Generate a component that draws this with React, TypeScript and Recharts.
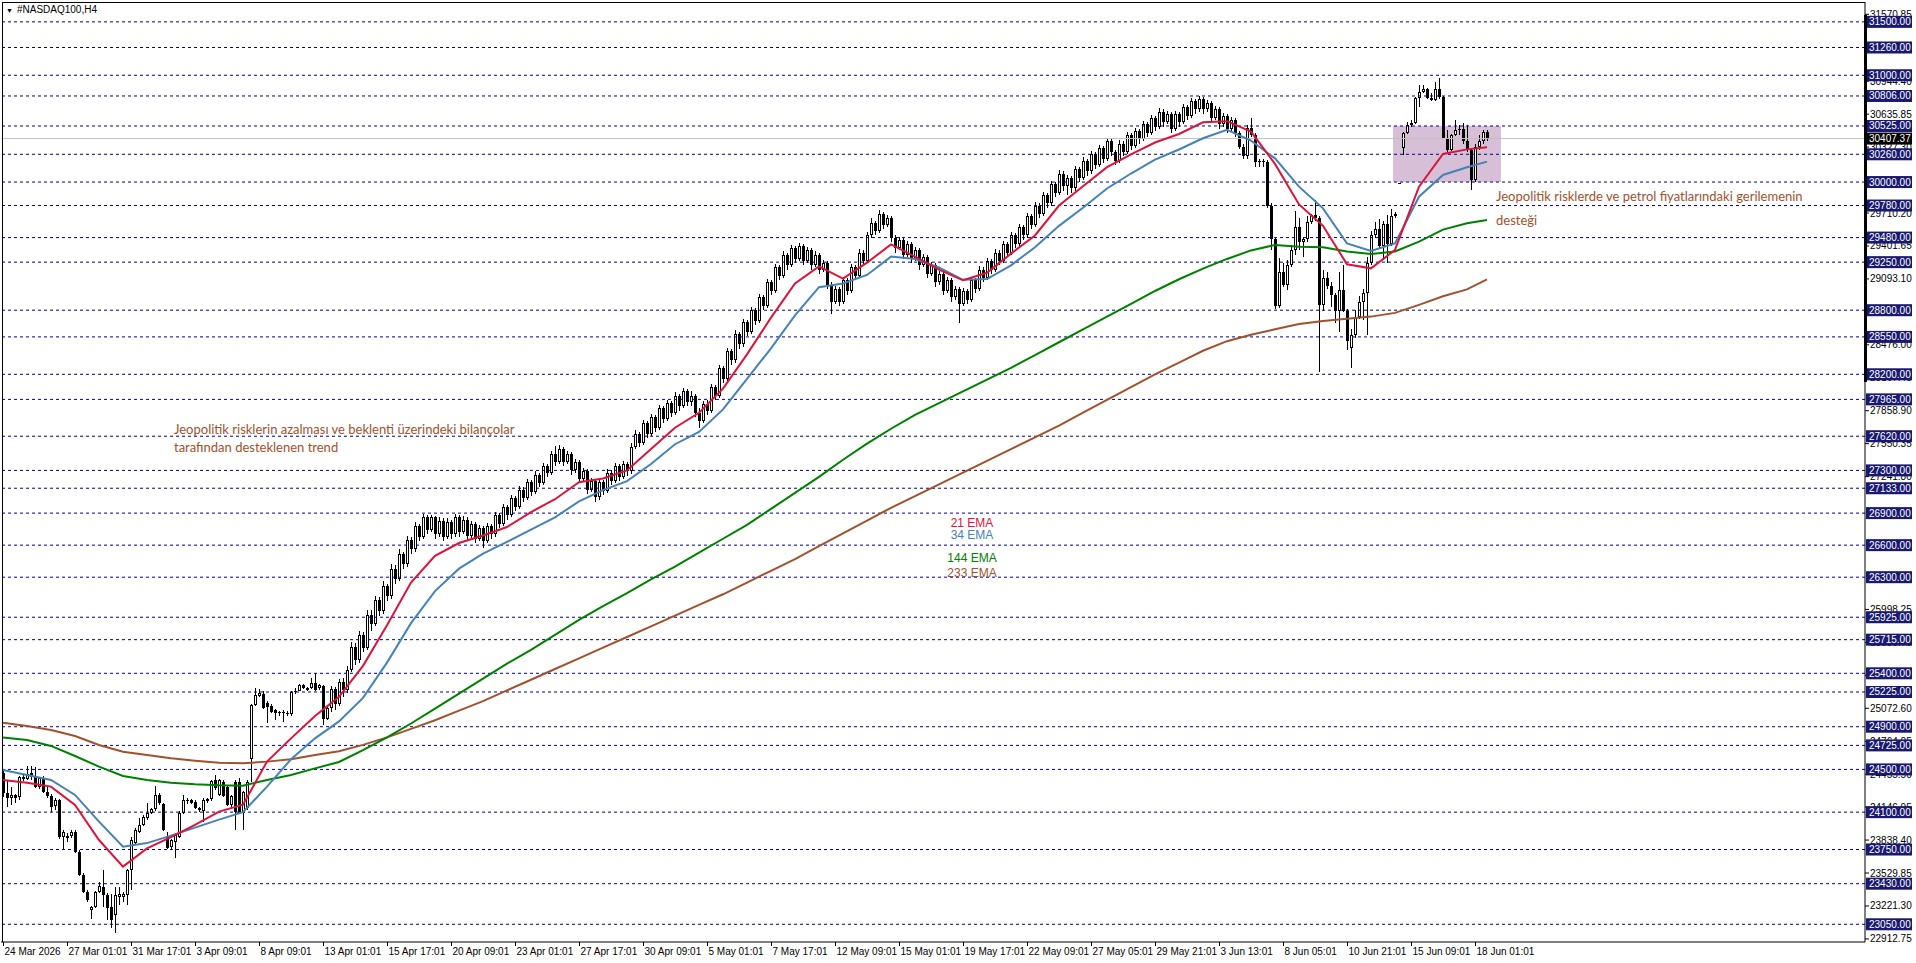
import React from 'react'
import { ComposedChart, Bar, Line, XAxis, YAxis, ReferenceLine, ReferenceArea } from 'recharts'

// H4 candles, 24 Mar - 18 Jun 2026
const opens = [
  24470, 24280, 24230, 24260, 24240, 24430, 24410, 24470, 24430, 24340,
  24420, 24290, 24250, 24160, 24210, 23870, 23860, 23880, 23915, 23730,
  23510, 23356, 23184, 23215, 23356, 23402, 23324, 23215, 23137, 23303,
  23303, 23324, 23559, 23808, 23917, 23980, 24042, 24089, 24127, 24261,
  24177, 23871, 23771, 23824, 23871, 24095, 24205, 24214, 24198, 24142,
  24110, 24208, 24220, 24400, 24261, 24380, 24339, 24167, 24386, 24386,
  24089, 24136, 24595, 25103, 25188, 25206, 25125, 25094, 25057, 25041,
  25041, 25032, 25019, 25222, 25237, 25291, 25259, 25259, 25306, 25259,
  25280, 24975, 25072, 25250, 25110, 25320, 25240, 25430, 25650, 25520,
  25760, 25640, 25950, 25860, 26090, 25980, 26220, 26120, 26380, 26280,
  26520, 26420, 26650, 26560, 26780, 26680, 26860, 26740, 26860, 26700,
  26830, 26680, 26820, 26700, 26860, 26720, 26840, 26690, 26800, 26660,
  26760, 26640, 26780, 26700, 26880, 26800, 26960, 26880, 27040, 26960,
  27120, 27040, 27190, 27100, 27260, 27180, 27340, 27280, 27450, 27380,
  27500, 27380, 27450, 27300, 27380, 27220, 27290, 27120, 27200, 27050,
  27190, 27110, 27280, 27200, 27340, 27240, 27360, 27290, 27520, 27640,
  27560, 27740, 27640, 27800, 27700, 27880, 27780, 27930, 27840, 28000,
  27900, 28040, 27940, 28000, 27840, 27760, 27920, 27860, 28080, 28000,
  28260, 28160, 28420, 28330, 28580, 28480, 28690, 28600, 28800, 28700,
  28920, 28840, 29060, 28980, 29200, 29120, 29320, 29220, 29380, 29280,
  29400, 29260, 29360, 29220, 29320, 29180, 29240, 29040, 28880, 29000,
  28880, 29080, 28980, 29200, 29120, 29340, 29260, 29500, 29620, 29540,
  29700, 29600, 29660, 29480, 29380, 29460, 29320, 29420, 29280, 29360,
  29220, 29300, 29140, 29220, 29060, 29140, 28980, 29080, 28920, 29000,
  28860, 28980, 28900, 29080, 29000, 29180, 29100, 29260, 29180, 29340,
  29260, 29420, 29340, 29500, 29420, 29580, 29500, 29680, 29600, 29780,
  29700, 29880, 29800, 29980, 29900, 30080, 29960, 30040, 29940, 30120,
  30040, 30200, 30100, 30260, 30160, 30320, 30220, 30380, 30280, 30200,
  30360, 30280, 30440, 30340, 30480, 30400, 30540, 30460, 30600, 30520,
  30660, 30560, 30640, 30500, 30640, 30560, 30700, 30620, 30760, 30680,
  30780, 30680, 30740, 30600, 30680, 30540, 30620, 30500, 30580, 30460,
  30330, 30240, 30510, 30440, 30190, 30200, 30190, 29780, 29470, 28840,
  29160, 29040, 29220, 29360, 29580, 29440, 29470, 29630, 29690, 29660,
  28850, 29100, 29030, 28940, 28790, 28990, 28790, 28450, 28570, 28740,
  28880, 28960, 29240, 29500, 29560, 29400, 29610, 29420, 29680, 29985,
  30316, 30462, 30535, 30550, 30785, 30847, 30869, 30790, 30770, 30870,
  30800, 30410, 30300, 30440, 30490, 30500, 30380, 30300, 30020, 30330,
  30380, 30470,
]
const highs = [
  24500, 24400, 24340, 24270, 24440, 24460, 24530, 24530, 24520, 24430,
  24440, 24340, 24270, 24230, 24220, 23930, 23900, 23930, 23930, 23750,
  23530, 23370, 23225, 23360, 23449, 23559, 23340, 23334, 23402, 23402,
  23350, 23570, 23871, 23950, 24042, 24070, 24183, 24140, 24348, 24275,
  24190, 23917, 23850, 23900, 24110, 24261, 24230, 24225, 24210, 24150,
  24230, 24230, 24400, 24450, 24410, 24400, 24350, 24260, 24400, 24420,
  24300, 24400, 25110, 25259, 25250, 25230, 25140, 25110, 25070, 25050,
  25055, 25045, 25230, 25259, 25300, 25300, 25270, 25353, 25400, 25300,
  25290, 25100, 25280, 25270, 25350, 25360, 25470, 25690, 25680, 25800,
  25790, 25990, 25990, 26120, 26110, 26260, 26240, 26420, 26410, 26560,
  26540, 26690, 26680, 26820, 26800, 26890, 26880, 26880, 26870, 26860,
  26850, 26850, 26840, 26890, 26880, 26870, 26860, 26830, 26820, 26790,
  26780, 26810, 26800, 26910, 26900, 26990, 26980, 27070, 27060, 27150,
  27140, 27220, 27210, 27290, 27280, 27370, 27360, 27480, 27530, 27540,
  27520, 27480, 27470, 27410, 27400, 27320, 27310, 27230, 27220, 27230,
  27210, 27310, 27300, 27370, 27360, 27390, 27380, 27560, 27680, 27660,
  27770, 27760, 27830, 27820, 27910, 27900, 27960, 27950, 28030, 28020,
  28070, 28060, 28040, 28020, 27880, 27950, 27960, 28110, 28100, 28290,
  28280, 28450, 28440, 28610, 28600, 28720, 28710, 28830, 28820, 28950,
  28940, 29090, 29080, 29230, 29220, 29350, 29340, 29410, 29400, 29430,
  29420, 29390, 29380, 29350, 29340, 29270, 29260, 29060, 29030, 29020,
  29110, 29100, 29230, 29220, 29370, 29360, 29530, 29660, 29640, 29740,
  29720, 29690, 29680, 29500, 29490, 29480, 29450, 29440, 29390, 29380,
  29330, 29320, 29250, 29240, 29170, 29160, 29110, 29100, 29030, 29020,
  29010, 29000, 29110, 29100, 29210, 29200, 29290, 29280, 29370, 29360,
  29450, 29440, 29530, 29520, 29610, 29600, 29710, 29700, 29810, 29800,
  29910, 29900, 30010, 30000, 30110, 30100, 30070, 30060, 30150, 30140,
  30230, 30220, 30290, 30280, 30350, 30340, 30410, 30400, 30300, 30390,
  30380, 30470, 30460, 30510, 30500, 30570, 30560, 30630, 30620, 30690,
  30680, 30670, 30660, 30670, 30660, 30730, 30720, 30790, 30780, 30810,
  30800, 30770, 30760, 30710, 30700, 30650, 30640, 30610, 30600, 30480,
  30360, 30530, 30600, 30460, 30220, 30220, 30210, 29800, 29480, 29290,
  29240, 29270, 29410, 29730, 29660, 29490, 29680, 29700, 29830, 29680,
  29180, 29160, 29060, 28960, 29160, 29220, 28810, 28620, 28800, 28930,
  29000, 29300, 29540, 29630, 29650, 29640, 29690, 29750, 29720, 29995,
  30470, 30560, 30580, 30800, 30910, 30910, 30880, 30830, 30940, 30972,
  30810, 30490, 30450, 30580, 30530, 30550, 30530, 30320, 30360, 30440,
  30490, 30490,
]
const lows = [
  24240, 24150, 24170, 24190, 24210, 24390, 24400, 24400, 24330, 24320,
  24280, 24230, 24100, 24120, 23850, 23750, 23820, 23860, 23720, 23500,
  23340, 23260, 23097, 23200, 23340, 23215, 23090, 23012, 22965, 23231,
  23260, 23231, 23371, 23790, 23900, 23970, 24030, 24080, 24110, 24170,
  23920, 23752, 23752, 23668, 23860, 24080, 24180, 24175, 24130, 24105,
  24010, 24190, 24200, 24310, 24250, 24240, 24160, 24150, 23933, 24080,
  23933, 24120, 24380, 25090, 25180, 25070, 24932, 25030, 24963, 25000,
  24947, 25000, 25000, 25210, 25230, 25250, 25230, 25250, 25230, 25240,
  24916, 24960, 25040, 25060, 25090, 25180, 25220, 25410, 25480, 25500,
  25600, 25620, 25800, 25840, 25940, 25960, 26080, 26100, 26240, 26260,
  26380, 26400, 26520, 26540, 26640, 26660, 26700, 26720, 26660, 26680,
  26640, 26660, 26660, 26680, 26680, 26700, 26650, 26670, 26620, 26640,
  26570, 26620, 26660, 26680, 26760, 26780, 26840, 26860, 26920, 26940,
  27000, 27020, 27060, 27080, 27140, 27160, 27240, 27260, 27340, 27360,
  27340, 27360, 27260, 27280, 27180, 27200, 27080, 27100, 27000, 27020,
  27070, 27090, 27160, 27180, 27200, 27220, 27250, 27270, 27500, 27520,
  27540, 27600, 27620, 27660, 27680, 27740, 27760, 27800, 27820, 27860,
  27880, 27900, 27900, 27800, 27700, 27740, 27820, 27840, 27960, 27980,
  28120, 28140, 28290, 28310, 28440, 28460, 28560, 28580, 28660, 28680,
  28800, 28820, 28940, 28960, 29080, 29100, 29180, 29200, 29240, 29260,
  29220, 29240, 29180, 29200, 29140, 29160, 29000, 28760, 28860, 28840,
  28860, 28940, 28960, 29080, 29100, 29220, 29240, 29480, 29500, 29520,
  29560, 29580, 29440, 29340, 29360, 29280, 29300, 29240, 29260, 29180,
  29200, 29100, 29120, 29020, 29040, 28940, 28960, 28880, 28900, 28680,
  28840, 28860, 28880, 28960, 28980, 29060, 29080, 29140, 29160, 29220,
  29240, 29300, 29320, 29380, 29400, 29460, 29480, 29560, 29580, 29660,
  29680, 29760, 29780, 29860, 29880, 29920, 29880, 29900, 29920, 30000,
  30020, 30060, 30080, 30120, 30140, 30180, 30200, 30240, 30160, 30180,
  30240, 30260, 30300, 30320, 30360, 30380, 30420, 30440, 30480, 30500,
  30520, 30540, 30460, 30480, 30520, 30540, 30580, 30600, 30640, 30660,
  30640, 30660, 30560, 30580, 30500, 30520, 30460, 30480, 30420, 30310,
  30220, 30220, 30420, 30140, 30140, 30140, 29760, 29360, 28810, 28820,
  29020, 28990, 29200, 29320, 29360, 29300, 29440, 29610, 29640, 28220,
  28790, 29000, 28830, 28680, 28600, 28780, 28430, 28260, 28540, 28720,
  28710, 28570, 29220, 29480, 29380, 29270, 29240, 29400, 29660, 29980,
  30250, 30450, 30520, 30540, 30700, 30830, 30780, 30760, 30760, 30780,
  30400, 30280, 30290, 30430, 30440, 30360, 30280, 29925, 30000, 30300,
  30360, 30380,
]
const closes = [
  24280, 24230, 24260, 24230, 24430, 24410, 24460, 24430, 24340, 24420,
  24290, 24250, 24150, 24210, 23870, 23910, 23880, 23915, 23730, 23510,
  23356, 23278, 23215, 23356, 23409, 23324, 23200, 23090, 23324, 23334,
  23334, 23559, 23839, 23933, 23980, 24058, 24089, 24127, 24261, 24183,
  23933, 23761, 23839, 23886, 24095, 24214, 24214, 24183, 24136, 24120,
  24214, 24220, 24390, 24323, 24401, 24251, 24167, 24251, 24105, 24089,
  24292, 24386, 25103, 25197, 25213, 25072, 25088, 25041, 25025, 25025,
  25025, 25019, 25222, 25234, 25291, 25259, 25244, 25306, 25244, 25291,
  24975, 25072, 25250, 25110, 25320, 25240, 25430, 25650, 25520, 25760,
  25640, 25950, 25860, 26090, 25980, 26220, 26120, 26380, 26280, 26520,
  26420, 26650, 26560, 26780, 26680, 26860, 26740, 26860, 26700, 26830,
  26680, 26820, 26700, 26860, 26720, 26840, 26690, 26800, 26660, 26760,
  26640, 26780, 26700, 26880, 26800, 26960, 26880, 27040, 26960, 27120,
  27040, 27190, 27100, 27260, 27180, 27340, 27280, 27450, 27380, 27500,
  27380, 27450, 27300, 27380, 27220, 27290, 27120, 27200, 27050, 27190,
  27110, 27280, 27200, 27340, 27240, 27360, 27290, 27520, 27640, 27560,
  27740, 27640, 27800, 27700, 27880, 27780, 27930, 27840, 28000, 27900,
  28040, 27940, 28000, 27840, 27760, 27920, 27860, 28080, 28000, 28260,
  28160, 28420, 28330, 28580, 28480, 28690, 28600, 28800, 28700, 28920,
  28840, 29060, 28980, 29200, 29120, 29320, 29220, 29380, 29280, 29400,
  29260, 29360, 29220, 29320, 29180, 29240, 29040, 28880, 29000, 28880,
  29080, 28980, 29200, 29120, 29340, 29260, 29500, 29620, 29540, 29700,
  29600, 29660, 29480, 29380, 29460, 29320, 29420, 29280, 29360, 29220,
  29300, 29140, 29220, 29060, 29140, 28980, 29080, 28920, 29000, 28860,
  28980, 28900, 29080, 29000, 29180, 29100, 29260, 29180, 29340, 29260,
  29420, 29340, 29500, 29420, 29580, 29500, 29680, 29600, 29780, 29700,
  29880, 29800, 29980, 29900, 30080, 29960, 30040, 29940, 30120, 30040,
  30200, 30100, 30260, 30160, 30320, 30220, 30380, 30280, 30200, 30360,
  30280, 30440, 30340, 30480, 30400, 30540, 30460, 30600, 30520, 30660,
  30560, 30640, 30500, 30640, 30560, 30700, 30620, 30760, 30680, 30780,
  30680, 30740, 30600, 30680, 30540, 30620, 30500, 30580, 30460, 30330,
  30240, 30510, 30440, 30190, 30200, 30190, 29780, 29470, 28840, 29160,
  29040, 29220, 29360, 29580, 29440, 29470, 29630, 29690, 29660, 28850,
  29100, 29030, 28940, 28790, 28990, 28790, 28510, 28570, 28740, 28880,
  28960, 29240, 29500, 29560, 29400, 29610, 29420, 29680, 29700, 29990,
  30462, 30535, 30550, 30785, 30847, 30869, 30790, 30770, 30870, 30800,
  30410, 30300, 30440, 30490, 30500, 30380, 30300, 30020, 30330, 30380,
  30470, 30407,
]

// moving averages, read every 6 bars
const emaBars = [
  0, 6, 12, 18, 24, 30, 36, 42, 48, 54, 60, 66, 72, 78, 84, 90, 96, 102, 108, 114,
  120, 126, 132, 138, 144, 150, 156, 162, 168, 174, 180, 186, 192, 198, 204, 210, 216, 222, 228, 234,
  240, 246, 252, 258, 264, 270, 276, 282, 288, 294, 300, 306, 312, 318, 324, 330, 336, 342, 348, 354,
  360, 366, 371,
]
const ema21 = [
  24401, 24376, 24339, 24167, 23839, 23590, 23760, 23866, 23980, 24105,
  24170, 24573, 24791, 25000, 25180, 25470, 25850, 26250, 26500, 26620,
  26690, 26770, 26910, 27030, 27190, 27225, 27300, 27500, 27700, 27840,
  28066, 28386, 28730, 29050, 29210, 29096, 29245, 29416, 29302, 29180,
  29080, 29150, 29330, 29500, 29780, 29960, 30140, 30260, 30370, 30450,
  30560, 30570, 30472, 30170, 29790, 29590, 29230, 29192, 29364, 29957,
  30263, 30306, 30325,
]
const ema34 = [
  24495, 24448, 24401, 24261, 24011, 23777, 23810, 23880, 23955, 24030,
  24100, 24339, 24595, 24791, 24950, 25170, 25500, 25870, 26170, 26380,
  26520, 26630, 26745, 26860, 27010, 27115, 27200, 27360, 27545, 27660,
  27871, 28157, 28443, 28752, 29016, 29050, 29130, 29302, 29279, 29200,
  29085, 29092, 29220, 29390, 29590, 29760, 29940, 30080, 30210, 30305,
  30410, 30490, 30388, 30222, 29957, 29754, 29426, 29355, 29426, 29863,
  30066, 30138, 30191,
]
const ema144 = [
  24798, 24776, 24720, 24626, 24526, 24439, 24401, 24376, 24361, 24351,
  24348, 24401, 24448, 24510, 24570, 24680, 24800, 24930, 25070, 25210,
  25350, 25490, 25620, 25760, 25900, 26030, 26150, 26280, 26400, 26530,
  26660, 26790, 26940, 27090, 27240, 27400, 27550, 27690, 27820, 27930,
  28040, 28150, 28260, 28380, 28500, 28620, 28740, 28860, 28980, 29090,
  29190, 29280, 29360, 29411, 29395, 29389, 29350, 29326, 29350, 29442,
  29555, 29614, 29645,
]
const ema233 = [
  24938, 24907, 24869, 24813, 24729, 24666, 24635, 24604, 24582, 24563,
  24557, 24573, 24595, 24635, 24670, 24730, 24800, 24880, 24960, 25050,
  25140, 25240, 25340, 25440, 25540, 25640, 25740, 25840, 25940, 26040,
  26140, 26250, 26360, 26470, 26590, 26710, 26830, 26950, 27060, 27170,
  27280, 27390, 27500, 27610, 27720, 27840, 27960, 28080, 28200, 28310,
  28420, 28510, 28570, 28621, 28670, 28700, 28720, 28740, 28775, 28850,
  28930, 28995, 29089,
]

// one date label every 16 bars
const dateLabels = [
  '24 Mar 2026', '27 Mar 01:01', '31 Mar 17:01', '3 Apr 09:01', '8 Apr 09:01', '13 Apr 01:01',
  '15 Apr 17:01', '20 Apr 09:01', '23 Apr 01:01', '27 Apr 17:01', '30 Apr 09:01', '5 May 01:01',
  '7 May 17:01', '12 May 09:01', '15 May 01:01', '19 May 17:01', '22 May 09:01', '27 May 05:01',
  '29 May 21:01', '3 Jun 13:01', '8 Jun 05:01', '10 Jun 21:01', '15 Jun 09:01', '18 Jun 01:01',
]

// price scale ticks that are not fully hidden by the level boxes
const priceTicks = [
  22912.75, 23221.3, 23529.85, 23838.4, 24146.95, 24455.5, 24764.05, 25072.6, 25381.15, 25689.7,
  25998.25, 27241.8, 27550.35, 27858.9, 28167.45, 28476.0, 29093.1, 29401.65, 29710.2, 30327.3,
  30635.85, 30944.4, 31570.85,
]
const levels = [
  31500, 31260, 31000, 30806, 30525, 30260, 30000, 29780, 29480, 29250, 28800, 28550, 28200, 27965,
  27620, 27300, 27133, 26900, 26600, 26300, 25925, 25715, 25400, 25225, 24900, 24725, 24500, 24100,
  23750, 23430, 23050,
]
const lastPrice = 30407.37

const SLOTS = 466
const data: any[] = []
for (let i = 0; i < SLOTS; i++) {
  const row: any = { i }
  if (i < closes.length) {
    row.o = opens[i]
    row.h = highs[i]
    row.l = lows[i]
    row.c = closes[i]
    row.range = [lows[i], highs[i]]
  }
  data.push(row)
}
emaBars.forEach((b, k) => {
  data[b].e21 = ema21[k]
  data[b].e34 = ema34[k]
  data[b].e144 = ema144[k]
  data[b].e233 = ema233[k]
})

const FONT = '"Liberation Sans", Arial, sans-serif'
const NAVY = '#191970'

function Candle(props: any) {
  const { x, y, width, height, payload } = props
  if (!payload || payload.o == null || !(height > 0)) return null
  const { o, h, l, c } = payload
  const k = height / (h - l)
  const cx = Math.floor(x + width / 2) + 0.5
  const top = Math.round(y + (h - Math.max(o, c)) * k)
  let bot = Math.round(y + (h - Math.min(o, c)) * k)
  if (bot <= top) bot = top + 1
  const up = c >= o
  return (
    <g shapeRendering="crispEdges">
      <line x1={cx} x2={cx} y1={Math.round(y)} y2={Math.round(y + height)} stroke="#000" />
      <rect x={cx - 1} y={top + 0.5} width={2} height={bot - top - 1 > 0 ? bot - top - 1 : 0.01} fill={up ? '#fff' : '#000'} stroke="#000" />
    </g>
  )
}

function PriceTick(props: any) {
  const { x, y, payload } = props
  const v = payload.value
  if (v === lastPrice || levels.includes(v)) {
    return (
      <g>
        <rect x={x + 1} y={y - 6} width={46} height={12} fill={v === lastPrice ? '#000' : NAVY} />
        <text x={x + 4} y={y} dy="0.35em" fontSize={10} fontFamily={FONT} fill="#fff">{v.toFixed(2)}</text>
      </g>
    )
  }
  return (
    <g>
      <line x1={x} x2={x + 4} y1={y} y2={y} stroke="#000" />
      <text x={x + 5} y={y} dy="0.35em" fontSize={10} fontFamily={FONT} fill="#000">{v.toFixed(2)}</text>
    </g>
  )
}

function DateTick(props: any) {
  const { x, y, payload } = props
  const label = dateLabels[payload.value / 16]
  if (!label) return null
  const px = Math.floor(x) + 0.5
  return (
    <g>
      <line x1={px} x2={px} y1={y} y2={y + 4} stroke="#000" />
      <text x={px + 1} y={y + 13} fontSize={10} fontFamily={FONT} fill="#000">{label}</text>
    </g>
  )
}

const note: React.CSSProperties = {
  position: 'absolute', fontFamily: 'Lato, sans-serif', fontSize: 13, color: '#a0522d', whiteSpace: 'nowrap', lineHeight: '15px',
}
const emaNote: React.CSSProperties = {
  position: 'absolute', left: 932, width: 80, textAlign: 'center', fontFamily: FONT, fontSize: 12, lineHeight: '14px',
}

export default function App() {
  return (
    <div style={{ position: 'absolute', left: 0, top: 0, width: 1916, height: 963, background: '#fff', overflow: 'hidden' }}>
      <ComposedChart width={1916} height={963} data={data} margin={{ top: 2, right: 0, left: 1, bottom: 0 }} barCategoryGap={0}>
        <XAxis dataKey="i" type="category" interval={15} height={21} tickSize={0} tickMargin={0} tickLine={false}
          axisLine={{ stroke: '#000' }} tick={<DateTick />} />
        <YAxis orientation="right" type="number" width={51} domain={[22884, 31686]} allowDataOverflow
          ticks={[...priceTicks, ...levels, lastPrice]} interval={0} tickSize={0} tickMargin={0} tickLine={false}
          axisLine={{ stroke: '#000' }} tick={<PriceTick />} />
        <ReferenceArea x1={348} x2={374} y1={30000} y2={30525} fill="#d8bfd8" fillOpacity={1} stroke="none" />
        {levels.map((lv) => (
          <ReferenceLine key={lv} y={lv} stroke="#000080" strokeDasharray="3 3" />
        ))}
        <ReferenceLine y={lastPrice} stroke="#c0c0c0" />
        <Bar dataKey="range" shape={<Candle />} isAnimationActive={false} />
        <Line dataKey="e233" stroke="#a0522d" strokeWidth={2} dot={false} connectNulls isAnimationActive={false} />
        <Line dataKey="e144" stroke="#008000" strokeWidth={2} dot={false} connectNulls isAnimationActive={false} />
        <Line dataKey="e34" stroke="#4682b4" strokeWidth={2} dot={false} connectNulls isAnimationActive={false} />
        <Line dataKey="e21" stroke="#dc143c" strokeWidth={2} dot={false} connectNulls isAnimationActive={false} />
      </ComposedChart>

      <div style={{ position: 'absolute', left: 2, top: 2, width: 1863, height: 0, borderTop: '1px solid #000' }} />
      <div style={{ position: 'absolute', left: 2, top: 2, width: 0, height: 940, borderLeft: '1px solid #000' }} />
      <div style={{ position: 'absolute', left: 1864, top: 15, width: 3, height: 367, background: '#000' }} />

      <div style={{ position: 'absolute', left: 6, top: 4, fontFamily: FONT, fontSize: 10, color: '#000', whiteSpace: 'nowrap' }}>
        <span style={{ fontSize: 7, marginRight: 4 }}>▼</span>#NASDAQ100,H4
      </div>

      <div style={{ ...note, left: 174, top: 422 }}>Jeopolitik risklerin azalması ve beklenti üzerindeki bilançolar</div>
      <div style={{ ...note, left: 174, top: 440 }}>tarafından desteklenen trend</div>
      <div style={{ ...note, left: 1496, top: 189 }}>Jeopolitik risklerde ve petrol fiyatlarındaki gerilemenin</div>
      <div style={{ ...note, left: 1496, top: 213 }}>desteği</div>

      <div style={{ ...emaNote, top: 516, color: '#dc143c' }}>21 EMA</div>
      <div style={{ ...emaNote, top: 528, color: '#4682b4' }}>34 EMA</div>
      <div style={{ ...emaNote, top: 551, color: '#008000' }}>144 EMA</div>
      <div style={{ ...emaNote, top: 566, color: '#a0522d' }}>233 EMA</div>
    </div>
  )
}
